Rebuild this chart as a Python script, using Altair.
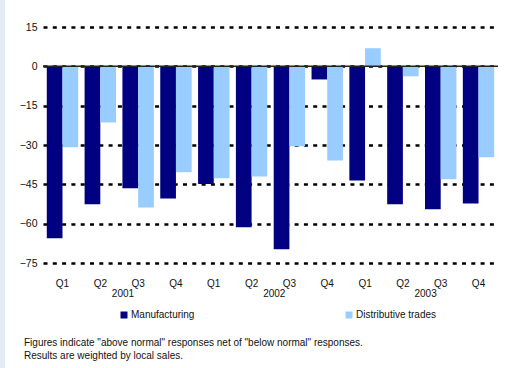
import altair as alt
import pandas as pd

# ---- data ----
years = ["2001", "2002", "2003"]
quarters = ["Q1", "Q2", "Q3", "Q4"]
manufacturing = [-65.6, -52.6, -46.5, -50.4, -44.9, -61.4, -69.8, -5.0, -43.5, -52.6, -54.5, -52.3]
distributive = [-30.9, -21.4, -53.8, -40.4, -42.7, -42.0, -30.5, -35.9, 6.9, -3.8, -43.1, -34.7]
series_names = ["Manufacturing", "Distributive trades"]
y_ticks = [15, 0, -15, -30, -45, -60, -75]
title_text = "ACTIVITY IN THE DOMESTIC SECTOR"
note_lines = [
    'Figures indicate "above normal" responses net of "below normal" responses.',
    "Results are weighted by local sales.",
]

periods = [f"{y} {q}" for y in years for q in quarters]
rows = []
for i, p in enumerate(periods):
    rows.append({"period": p, "series": series_names[0], "value": manufacturing[i]})
    rows.append({"period": p, "series": series_names[1], "value": distributive[i]})
df = pd.DataFrame(rows)
year_df = pd.DataFrame({"year": years, "period": [f"{y} Q2" for y in years]})
one = pd.DataFrame({"k": [0]})

FONT = "Liberation Sans"
W, H = 455, 236

xscale = alt.Scale(domain=periods, paddingInner=0.17, paddingOuter=0.1)
yscale = alt.Scale(domain=[-75, 15], nice=False, zero=False)

xaxis = alt.Axis(title=None, labelExpr="split(datum.label, ' ')[1]",
                 labelAngle=0, domain=False, ticks=False, tickSize=0,
                 labelPadding=15, labelFont=FONT, labelFontSize=10,
                 labelColor="#111", grid=False, labelOverlap=False)
yaxis = alt.Axis(title=None, values=y_ticks, domain=False, ticks=False, tickSize=0,
                 labelOverlap=False, labelPadding=6, labelFont=FONT,
                 labelFontSize=10.5, labelColor="#111", grid=True,
                 gridColor="#000", gridDash=[4, 5.3], gridWidth=2.5)

bars = alt.Chart(df).mark_bar().encode(
    x=alt.X("period:N", scale=xscale, sort=periods, axis=xaxis),
    xOffset=alt.XOffset("series:N", sort=series_names,
                        scale=alt.Scale(domain=series_names, paddingInner=0, paddingOuter=0)),
    y=alt.Y("value:Q", scale=yscale, axis=yaxis),
    color=alt.Color("series:N", sort=series_names,
                    scale=alt.Scale(domain=series_names, range=["#000080", "#99CCFF"]),
                    legend=alt.Legend(title=None, orient="none", direction="horizontal",
                                      legendX=76, legendY=283, symbolType="square",
                                      symbolSize=49, symbolStrokeWidth=0,
                                      labelFont=FONT, labelFontSize=10, labelColor="#111",
                                      labelOffset=2, columnPadding=149)),
)

zero = alt.Chart(one).mark_rule(color="#222", strokeWidth=1.5).encode(
    y=alt.Y("z:Q", scale=yscale, axis=yaxis),
).transform_calculate(z="0")

year_text = alt.Chart(year_df).mark_text(
    font=FONT, fontSize=10, color="#111", baseline="top", align="center", dx=7
).encode(
    x=alt.X("period:N", scale=xscale, sort=periods, bandPosition=1, axis=xaxis),
    y=alt.value(H + 26),
    text="year:N",
)

band = alt.Chart(one).mark_rect(color="#E4E9F3").encode(
    x=alt.value(-43), x2=alt.value(-38), y=alt.value(-27), y2=alt.value(H + 105)
)

title = alt.Chart(one).mark_text(
    font=FONT, fontSize=11, fontWeight="bold", color="#111", align="left", baseline="bottom"
).encode(x=alt.value(-33), y=alt.value(-25), text=alt.value(title_text))

note = alt.Chart(one).mark_text(
    font=FONT, fontSize=10, color="#111", align="left", baseline="top", lineHeight=12.5
).encode(x=alt.value(-19), y=alt.value(H + 75), text=alt.value(note_lines))

chart = alt.layer(band, bars, zero, year_text, title, note).properties(
    width=W, height=H,
    autosize=alt.AutoSizeParams(type="none"),
    padding={"left": 43, "top": 27, "right": 13, "bottom": 105},
    view=alt.ViewBackground(stroke="transparent", strokeWidth=0),
).configure_view(strokeWidth=0, stroke="transparent").configure(background="white")

chart.save("out.html", embed_options={"renderer": "svg", "actions": False})
